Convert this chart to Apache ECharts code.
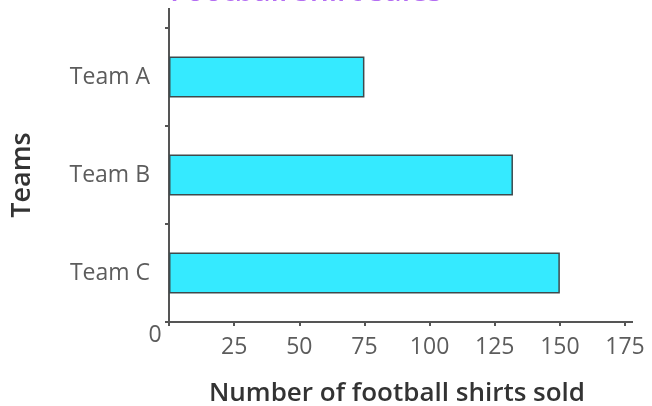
<!DOCTYPE html>
<html>
<head>
<meta charset="utf-8">
<script src="https://cdn.jsdelivr.net/npm/echarts@6/dist/echarts.min.js"></script>
<style>
  html, body { margin: 0; padding: 0; background: #fff; }
  #chart { width: 652px; height: 406px; }
</style>
</head>
<body>
<div id="chart"></div>
<script>
// Football shirt sales per team
const teams = ['Team A', 'Team B', 'Team C'];
const shirtsSold = [75, 132, 150];
const xTicks = [0, 25, 50, 75, 100, 125, 150, 175];

const chart = echarts.init(document.getElementById('chart'));
const labelFont = '"Open Sans", "Noto Sans", sans-serif';
const labelColor = '#5c5c5c';

chart.setOption({
  animation: false,
  backgroundColor: '#ffffff',
  title: {
    text: 'Football shirt sales',
    left: 301,
    top: -28,
    textAlign: 'center',
    textStyle: { color: '#b46ef2', fontSize: 30, fontWeight: 600, fontFamily: labelFont }
  },
  grid: { left: 169, right: 27, top: 28, bottom: 84, containLabel: false, outerBoundsMode: 'none' },
  xAxis: {
    type: 'value',
    min: xTicks[0],
    max: xTicks[xTicks.length - 1],
    interval: 25,
    splitLine: { show: false },
    axisLine: { show: true, lineStyle: { color: '#555', width: 2 } },
    axisTick: { show: true, length: 4, lineStyle: { color: '#555', width: 2 } },
    axisLabel: {
      margin: 1,
      formatter: v => v === 0 ? '{zero|0}' : '{n|' + v + '}',
      rich: {
        zero: { fontSize: 23, lineHeight: 24, color: labelColor, fontFamily: labelFont, padding: [0, 28, 0, 0] },
        n: { fontSize: 23, lineHeight: 24, color: labelColor, fontFamily: labelFont, padding: [24, 0, 0, 0] }
      }
    },
    name: 'Number of football shirts sold',
    nameLocation: 'middle',
    nameGap: 59,
    nameTextStyle: { fontSize: 26, fontWeight: 600, color: '#333', fontFamily: labelFont }
  },
  yAxis: {
    type: 'category',
    data: teams,
    inverse: true,
    axisLine: { show: true, lineStyle: { color: '#555', width: 2 } },
    axisTick: { show: true, length: 4, lineStyle: { color: '#555', width: 2 } },
    axisLabel: { margin: 19, fontSize: 23, color: labelColor, fontFamily: labelFont },
    name: 'Teams',
    nameLocation: 'middle',
    nameGap: 133,
    nameRotate: 90,
    nameTextStyle: { fontSize: 27, fontWeight: 600, color: '#333', fontFamily: labelFont }
  },
  graphic: [
    // axis line runs on a little past the plot edges
    { type: 'line', shape: { x1: 169, y1: 8, x2: 169, y2: 28 }, style: { stroke: '#555', lineWidth: 2 } },
    { type: 'line', shape: { x1: 625, y1: 322, x2: 633, y2: 322 }, style: { stroke: '#555', lineWidth: 2 } }
  ],
  series: [{
    type: 'bar',
    data: shirtsSold,
    barWidth: 41,
    itemStyle: { color: '#35eaff', borderColor: '#3d4a4d', borderWidth: 1.5 }
  }]
});
</script>
</body>
</html>
